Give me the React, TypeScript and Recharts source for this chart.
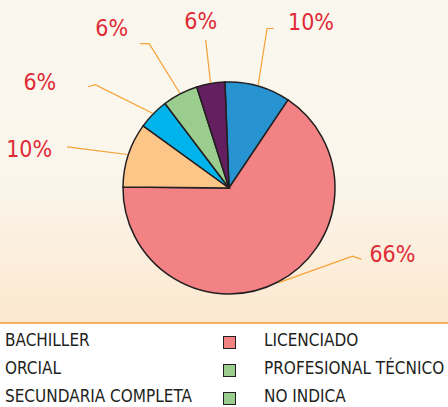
import { PieChart, Pie, Cell } from "recharts";

// slices, clockwise from the top
const sliceNames = ["S1", "S2", "S3", "S4", "S5", "S6"];
const sliceValues = [10, 65.7, 9.8, 4.7, 5.4, 4.3];
const sliceLabels = ["10%", "66%", "10%", "6%", "6%", "6%"];
const sliceColors = ["#2893d1", "#f28283", "#fdc689", "#00b3ea", "#9bcd8e", "#631f5f"];

// legend (left column is clipped in the original)
const legendLeft = ["BACHILLER", "ORCIAL", "SECUNDARIA COMPLETA"];
const legendLeftColors = ["#2893d1", "#fdc689", "#00b3ea"];
const legendRight = ["LICENCIADO", "PROFESIONAL TÉCNICO", "NO INDICA"];
const legendRightColors = ["#f28283", "#9bcd8e", "#9bcd8e"];

const FONT = "'Liberation Sans Narrow', 'DejaVu Sans Condensed', 'Roboto', sans-serif";
const RAD = Math.PI / 180;

// leader line layout per slice
const labelLayout = [
  { turn: 2.4, r: 164, kx: 7, ky: 0, tx: 14, ty: -6, anchor: "start" },
  { turn: 33.3, r: 141, kx: 9, ky: 3, tx: 8, ty: -5, anchor: "start" },
  { turn: 4, r: 167, kx: 0, ky: 0, tx: -15, ty: 2, anchor: "end" },
  { turn: 6.7, r: 169, kx: -7, ky: 2, tx: -32, ty: -5, anchor: "end" },
  { turn: 1.5, r: 165, kx: -9, ky: 0, tx: -12, ty: -16, anchor: "end" },
  { turn: -1, r: 150, kx: 0, ky: 0, tx: -5, ty: -19, anchor: "middle" },
];

const polar = (cx: number, cy: number, r: number, angle: number) => ({
  x: cx + r * Math.cos(-angle * RAD),
  y: cy + r * Math.sin(-angle * RAD),
});

const renderLabel = (p: any) => {
  const { cx, cy, midAngle, outerRadius, index } = p;
  const l = labelLayout[index];
  const s = polar(cx, cy, outerRadius + 1, midAngle);
  const e = polar(cx, cy, l.r, midAngle + l.turn);
  const k = { x: e.x + l.kx, y: e.y + l.ky };
  return (
    <g key={`lbl-${index}`}>
      <polyline
        points={`${s.x},${s.y} ${e.x},${e.y} ${k.x},${k.y}`}
        fill="none"
        stroke="#f6a134"
        strokeWidth={1.2}
      />
      <text
        x={k.x + l.tx}
        y={k.y + l.ty}
        textAnchor={l.anchor as any}
        dominantBaseline="central"
        fill="#e02a36"
        fontSize={23}
        fontFamily={FONT}
      >
        {sliceLabels[index]}
      </text>
    </g>
  );
};

const data = sliceNames.map((name, i) => ({ name, value: sliceValues[i] }));

const Swatch = ({ color }: { color: string }) => (
  <span
    style={{
      display: "inline-block",
      width: 11,
      height: 11,
      background: color,
      border: "1px solid #231f20",
    }}
  />
);

export default function App() {
  return (
    <div
      style={{
        position: "absolute",
        left: 0,
        top: 0,
        width: 448,
        height: 407,
        overflow: "hidden",
        background: "#ffffff",
        fontFamily: FONT,
      }}
    >
      <div
        style={{
          width: 448,
          height: 322,
          background: "linear-gradient(to bottom, #faf7ee 0%, #faf6ec 55%, #fce8cf 100%)",
          borderBottom: "2px solid #f5b063",
        }}
      >
        <PieChart width={448} height={322} margin={{ top: 0, right: 0, bottom: 0, left: 0 }}>
          <Pie
            data={data}
            dataKey="value"
            cx={229}
            cy={188}
            outerRadius={106}
            startAngle={92.2}
            endAngle={-267.8}
            stroke="#231f20"
            strokeWidth={1.5}
            labelLine={false}
            label={renderLabel}
            isAnimationActive={false}
          >
            {data.map((d, i) => (
              <Cell key={d.name} fill={sliceColors[i]} />
            ))}
          </Pie>
        </PieChart>
      </div>
      <div style={{ position: "relative", color: "#231f20", fontSize: 17 }}>
        {legendLeft.map((name, i) => (
          <div key={name}>
            <div style={{ position: "absolute", left: -30, top: 12 + i * 28 }}>
              <Swatch color={legendLeftColors[i]} />
            </div>
            <div style={{ position: "absolute", left: 5, top: 6 + i * 28, lineHeight: "20px" }}>
              {name}
            </div>
            <div style={{ position: "absolute", left: 223, top: 12 + i * 28, lineHeight: 0 }}>
              <Swatch color={legendRightColors[i]} />
            </div>
            <div style={{ position: "absolute", left: 264, top: 6 + i * 28, lineHeight: "20px" }}>
              {legendRight[i]}
            </div>
          </div>
        ))}
      </div>
    </div>
  );
}
